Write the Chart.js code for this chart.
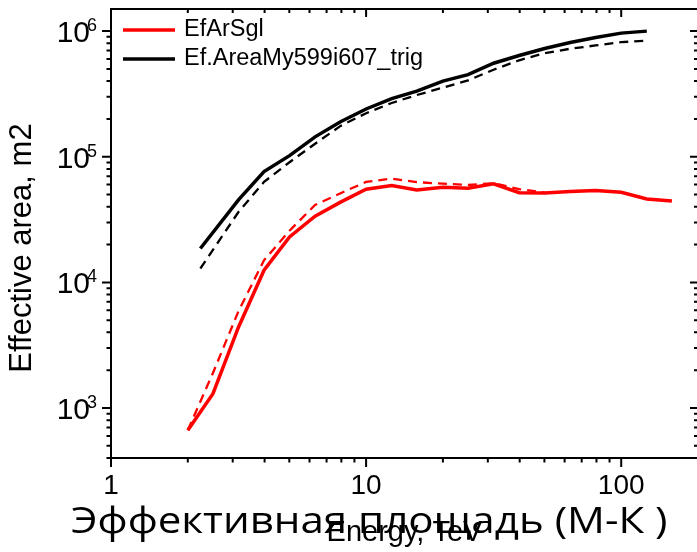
<!DOCTYPE html>
<html><head><meta charset="utf-8">
<script src="https://cdn.jsdelivr.net/npm/chart.js@4/dist/chart.umd.min.js"></script>
<style>
html,body{margin:0;padding:0;background:#fff;overflow:hidden;width:697px;height:552px}
#c{position:absolute;left:0;top:0;width:700px;height:552px}
#ttl{position:absolute;left:71px;top:500px;font-family:'Open Sans','Noto Sans',sans-serif;font-size:37px;line-height:1;white-space:nowrap;transform-origin:left top;color:#000}
</style></head><body>
<canvas id="c" width="700" height="552"></canvas>
<div id="ttl">Эффективная площадь (М-К )</div>
<script>
// ---- data ----
const redSolidE = [2.0, 2.51, 3.16, 3.98, 5.01, 6.31, 7.94, 10, 12.6, 15.8, 20, 25.1, 31.6, 39.8, 50.1, 63.1, 79.4, 100, 126, 158];
const redSolidA = [665, 1300, 4400, 12500, 23000, 33700, 43500, 55200, 58900, 54500, 57200, 56200, 60800, 51800, 51500, 52800, 53800, 52100, 46100, 44500];
const redDashE = [2.0, 2.51, 3.16, 3.98, 5.01, 6.31, 7.94, 10, 12.6, 15.8, 20, 25.1, 31.6, 39.8, 50.1];
const redDashA = [665, 1900, 5900, 15000, 25800, 41300, 51300, 63000, 67000, 62800, 61000, 59600, 61500, 55300, 52000];
const blkSolidE = [2.24, 3.16, 3.98, 5.01, 6.31, 7.94, 10, 12.6, 15.8, 20, 25.1, 31.6, 39.8, 50.1, 63.1, 79.4, 100, 126];
const blkSolidA = [18600, 45300, 76300, 102000, 144000, 190000, 240000, 290000, 333000, 400000, 450000, 555000, 640000, 727000, 812000, 890000, 964000, 1000000];
const blkDashE = [2.24, 3.16, 3.98, 5.01, 6.31, 7.94, 10, 12.6, 15.8, 20, 25.1, 31.6, 39.8, 50.1, 63.1, 79.4, 100, 126];
const blkDashA = [12900, 36300, 63100, 90400, 127000, 176000, 222000, 268000, 310000, 355000, 405000, 493000, 586000, 667000, 724000, 769000, 817000, 839000];
const xLabels = [1, 10, 100];
const legendNames = ['EfArSgl', 'Ef.AreaMy599i607_trig'];
const xTitle = 'Energy, TeV';
const yTitle = 'Effective area, m2';

const pts = (xs, ys) => xs.map((x, i) => ({x: x, y: ys[i]}));
const FONT = "'Liberation Sans', Arial, sans-serif";
const isDecade = v => { const l = Math.log10(v); return Math.abs(l - Math.round(l)) < 1e-6; };
const isNice = v => { const e = Math.floor(Math.log10(v) + 1e-9); const s = v / Math.pow(10, e); return Math.abs(s - Math.round(s)) < 1e-6; };

const framePlugin = {
  id: 'frame',
  afterDraw(chart) {
    const ctx = chart.ctx, a = chart.chartArea, xs = chart.scales.x, ys = chart.scales.y;
    ctx.save();
    ctx.strokeStyle = '#000';
    ctx.lineWidth = 2;
    ctx.strokeRect(a.left, a.top, a.right - a.left, a.bottom - a.top);
    ctx.beginPath();
    xs.ticks.forEach(t => {
      const v = t.value; if (v < 1 || v > 200 || !isNice(v)) return;
      const p = xs.getPixelForValue(v); const maj = isDecade(v);
      ctx.moveTo(p, a.bottom); ctx.lineTo(p, a.bottom + (maj ? 9 : 4.5));
      ctx.moveTo(p, a.top); ctx.lineTo(p, a.top + (maj ? 8 : 4));
    });
    ys.ticks.forEach(t => {
      const v = t.value; if (v < 400 || v > 1.5e6 || !isNice(v)) return;
      const p = ys.getPixelForValue(v); const maj = isDecade(v);
      ctx.moveTo(a.left, p); ctx.lineTo(a.left - (maj ? 9 : 4.5), p);
      ctx.moveTo(a.right, p); ctx.lineTo(a.right - (maj ? 8 : 4), p);
    });
    ctx.stroke();
    // y tick labels 10^n
    ctx.fillStyle = '#000';
    ys.ticks.forEach(t => {
      const v = t.value; if (!isDecade(v) || v < 400 || v > 1.5e6) return;
      const p = ys.getPixelForValue(v);
      const e = Math.round(Math.log10(v));
      ctx.font = '30px ' + FONT; ctx.textAlign = 'right'; ctx.textBaseline = 'alphabetic';
      ctx.fillText('10', 90, p + 11);
      ctx.font = '18px ' + FONT; ctx.textAlign = 'left';
      ctx.fillText(String(e), 87, p);
    });
    // y title
    ctx.save();
    ctx.translate(22, 248); ctx.rotate(-Math.PI / 2);
    ctx.font = '31px ' + FONT; ctx.textAlign = 'center'; ctx.textBaseline = 'middle';
    ctx.fillText(yTitle, 0, 0);
    ctx.restore();
    // legend
    const rows = [{ds: chart.data.datasets[0], y: 30}, {ds: chart.data.datasets[1], y: 59}];
    rows.forEach(r => {
      ctx.strokeStyle = r.ds.borderColor; ctx.lineWidth = 3.5; ctx.setLineDash([]);
      ctx.beginPath(); ctx.moveTo(123, r.y); ctx.lineTo(175, r.y); ctx.stroke();
      ctx.font = '23.5px ' + FONT; ctx.textAlign = 'left'; ctx.textBaseline = 'middle'; ctx.fillStyle = '#000';
      ctx.fillText(r.ds.label, 184, r.y);
    });
    ctx.restore();
  }
};

new Chart(document.getElementById('c'), {
  type: 'line',
  data: {
    datasets: [
      {label: legendNames[0], data: pts(redSolidE, redSolidA), borderColor: '#ff0000', borderWidth: 3.5, pointRadius: 0, tension: 0},
      {label: legendNames[1], data: pts(blkSolidE, blkSolidA), borderColor: '#000000', borderWidth: 3.5, pointRadius: 0, tension: 0},
      {label: legendNames[0] + ' (dashed)', data: pts(redDashE, redDashA), borderColor: '#ff0000', borderWidth: 2.3, borderDash: [9, 6], pointRadius: 0, tension: 0},
      {label: legendNames[1] + ' (dashed)', data: pts(blkDashE, blkDashA), borderColor: '#000000', borderWidth: 2.3, borderDash: [9, 6], pointRadius: 0, tension: 0}
    ]
  },
  options: {
    animation: false, responsive: false, maintainAspectRatio: false,
    layout: {padding: {left: 0, top: 9, right: 2, bottom: 0}},
    plugins: {legend: {display: false}, tooltip: {enabled: false}},
    scales: {
      x: {
        type: 'logarithmic', min: 1, max: 200, position: 'bottom', offset: false,
        grid: {display: false, drawTicks: false, offset: false}, border: {display: false},
        ticks: {autoSkip: false, maxRotation: 0, minRotation: 0, padding: 11, color: '#000',
          font: {family: FONT, size: 28},
          callback: v => xLabels.some(l => Math.abs(l - v) < 1e-6) ? String(v) : ''},
        title: {display: true, text: xTitle, color: '#000', font: {family: FONT, size: 29}, padding: {top: 0, bottom: 2}},
        afterFit: s => { s.height = 94; s.paddingLeft = 0; s.paddingRight = 0; }
      },
      y: {
        type: 'logarithmic', min: 400, max: 1.5e6, position: 'left',
        grid: {display: false, drawTicks: false}, border: {display: false},
        ticks: {display: false},
        afterFit: s => { s.width = 111; s.paddingTop = 0; s.paddingBottom = 0; }
      }
    }
  },
  plugins: [framePlugin]
});

const t = document.getElementById('ttl');
const fit = () => { const w = t.scrollWidth; if (w > 0) t.style.transform = 'scaleX(' + (596 / w) + ')'; };
fit();
if (document.fonts && document.fonts.ready) document.fonts.ready.then(fit);
</script>
</body></html>
